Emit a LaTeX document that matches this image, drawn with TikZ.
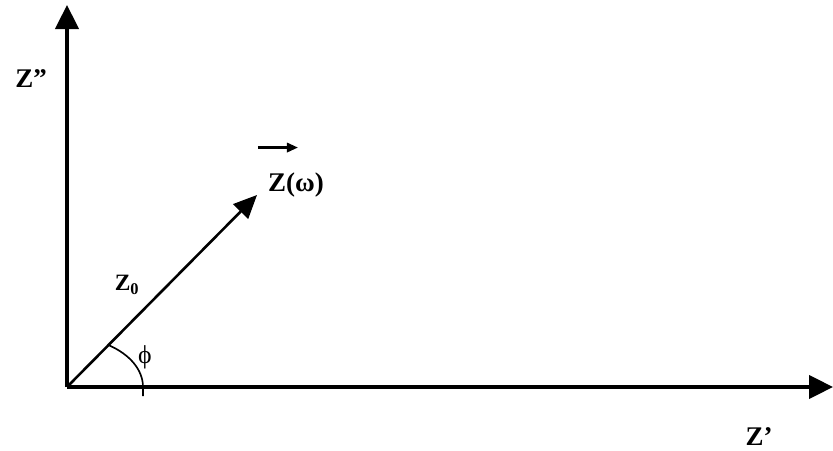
\documentclass[tikz,border=0pt]{standalone}
\usepackage{fontspec}
\setmainfont{Liberation Serif}
\usepackage{amsmath}
\usetikzlibrary{arrows.meta}

\tikzset{
  axis/.style={line width=2.6pt, -{Triangle[length=0.72cm, width=0.7cm]}},
  lab/.style={font=\fontsize{23}{26}\selectfont\bfseries, inner sep=0pt}
}

\begin{document}
\begin{tikzpicture}[x=0.03cm, y=-0.03cm]
  \useasboundingbox (0,0) rectangle (833,451);

  % Origin and axis ends
  \coordinate (O) at (67,387);
  \coordinate (xend) at (833,387);
  \coordinate (yend) at (67,5);
  \coordinate (tip) at (257,195);

  % Axes
  \draw[axis] (O) -- (xend);
  \draw[axis] (O) -- (yend);

  % Impedance vector
  \draw[line width=2.2pt, -{Triangle[length=0.7cm, width=0.62cm]}] (O) -- (tip);

  % Angle phi
  \draw[line width=1.4pt] (143,396) -- (143,387)
    arc[start angle=0, end angle=57, x radius=2.28cm, y radius=1.5cm];

  % Labels
  \node[lab] (zpp) at (31,79) {Z''};
  \node[lab] (zp) at (759,437) {Z'};
  \node[lab] (zw) at (296,185) {Z(ω)};
  \draw[line width=2pt, -{Triangle[length=0.33cm, width=0.28cm]}]
    ([shift={(-10,-25)}]zw.north west) -- ++(40,0);
  \node[lab, font=\fontsize{20}{24}\selectfont\bfseries] (zn) at (127,285) {Z\textsubscript{0}};
  \node[lab, font=\fontsize{22}{26}\selectfont] (phi) at (145,357) {ϕ};
\end{tikzpicture}
\end{document}
